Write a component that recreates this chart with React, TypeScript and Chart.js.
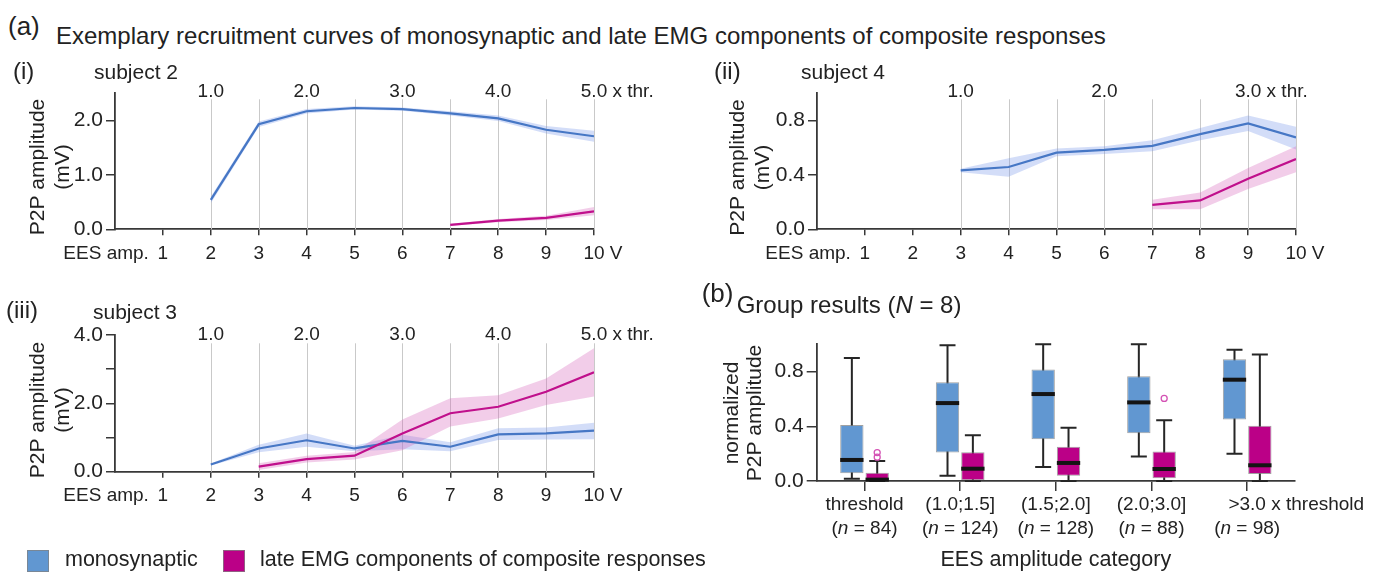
import React, { useEffect, useRef } from 'react';
import { Chart, registerables } from 'chart.js';

Chart.register(...registerables);

const FONT = '"Liberation Sans", Arial, Helvetica, sans-serif';
const INK = '#222222';
const AXIS_INK = '#383838';
const GRID_INK = '#c9c9c9';
const MONO_LINE = '#4677c5';
const MONO_BAND = 'rgba(118, 148, 232, 0.32)';
const LATE_LINE = '#c0108c';
const LATE_BAND = 'rgba(214, 100, 186, 0.32)';
const MONO_BOX = '#6197d1';
const LATE_BOX = '#bb0087';
const BOX_EDGE = 'rgba(130, 130, 130, 0.75)';
const OUTLIER_INK = '#d452b4';

// ---------- subject 2 ----------
const s2MonoV = [2, 3, 4, 5, 6, 7, 8, 9, 10];
const s2Mono = [0.54, 1.93, 2.17, 2.23, 2.21, 2.13, 2.04, 1.83, 1.71];
const s2MonoLo = [0.48, 1.88, 2.13, 2.2, 2.18, 2.09, 1.99, 1.76, 1.61];
const s2MonoHi = [0.6, 1.98, 2.21, 2.26, 2.24, 2.17, 2.09, 1.9, 1.81];
const s2LateV = [7, 8, 9, 10];
const s2Late = [0.08, 0.16, 0.21, 0.33];
const s2LateLo = [0.06, 0.13, 0.17, 0.26];
const s2LateHi = [0.1, 0.19, 0.25, 0.41];
const s2Multiples = ['1.0', '2.0', '3.0', '4.0', '5.0'];
const s2MultipleAt = [2, 4, 6, 8, 10];

// ---------- subject 4 ----------
const s4MonoV = [3, 4, 5, 6, 7, 8, 9, 10];
const s4Mono = [0.433, 0.458, 0.564, 0.584, 0.613, 0.7, 0.778, 0.675];
const s4MonoLo = [0.42, 0.387, 0.537, 0.554, 0.574, 0.655, 0.722, 0.586];
const s4MonoHi = [0.446, 0.522, 0.594, 0.611, 0.655, 0.744, 0.837, 0.754];
const s4LateV = [7, 8, 9, 10];
const s4Late = [0.18, 0.212, 0.372, 0.517];
const s4LateLo = [0.148, 0.148, 0.296, 0.419];
const s4LateHi = [0.217, 0.271, 0.45, 0.61];
const s4Multiples = ['1.0', '2.0', '3.0'];
const s4MultipleAt = [3, 6, 9];

// ---------- subject 3 ----------
const s3MonoV = [2, 3, 4, 5, 6, 7, 8, 9, 10];
const s3Mono = [0.21, 0.68, 0.92, 0.68, 0.9, 0.73, 1.09, 1.12, 1.2];
const s3MonoLo = [0.18, 0.57, 0.73, 0.6, 0.66, 0.6, 0.93, 0.94, 0.95];
const s3MonoHi = [0.24, 0.79, 1.12, 0.76, 1.08, 0.86, 1.27, 1.29, 1.43];
const s3LateV = [3, 4, 5, 6, 7, 8, 9, 10];
const s3Late = [0.15, 0.37, 0.47, 1.12, 1.71, 1.9, 2.34, 2.91];
const s3LateLo = [0.05, 0.27, 0.36, 0.63, 1.32, 1.56, 1.95, 2.2];
const s3LateHi = [0.25, 0.47, 0.58, 1.53, 2.15, 2.24, 2.73, 3.61];
const s3Multiples = ['1.0', '2.0', '3.0', '4.0', '5.0'];
const s3MultipleAt = [2, 4, 6, 8, 10];

// ---------- group results ----------
const categories = ['threshold', '(1.0;1.5]', '(1.5;2.0]', '(2.0;3.0]', '>3.0 x threshold'];
const categoryN = [84, 124, 128, 88, 98];
const monoMin = [0.017, 0.039, 0.103, 0.179, 0.2];
const monoQ1 = [0.056, 0.208, 0.306, 0.35, 0.45];
const monoMed = [0.154, 0.57, 0.636, 0.575, 0.741];
const monoQ3 = [0.41, 0.722, 0.815, 0.766, 0.89];
const monoMax = [0.9, 0.993, 1.0, 1.0, 0.961];
const lateMin = [0, 0, 0, 0, 0];
const lateQ1 = [0, 0, 0.039, 0.02, 0.051];
const lateMed = [0.01, 0.09, 0.132, 0.088, 0.115];
const lateQ3 = [0.061, 0.21, 0.25, 0.215, 0.404];
const lateMax = [0.147, 0.335, 0.389, 0.445, 0.925];
const lateOutliers = [[0.174, 0.208], [], [], [0.604], []];

const TICK_SIZE = 19;
const Y_TICK_SIZE = 21;
const X_TICK_LEN = 6;
const X_TICK_PAD = 7;
const Y_TICK_LEN = 9;
const Y_TICK_PAD = 3;

type Box = { left: number; top: number; width: number; height: number };
type Area = { l: number; t: number; r: number; b: number };
type Series = { v: number[]; mid: number[]; lo: number[]; hi: number[] };
type CurveSpec = {
  box: Box;
  area: Area;
  yMax: number;
  yStep: number;
  yLabelStep: number;
  mono: Series;
  late: Series;
  gridFrom: number;
  multiples: string[];
  multipleAt: number[];
  multBase: number;
  gridTop: number;
  tag: string;
  tagX: number;
  tagBase: number;
  subject: string;
  subjectX: number;
  subjectBase: number;
  titleX: [number, number];
  titleY: number;
};

const pts = (xs: number[], ys: number[]) => xs.map((x, i) => ({ x, y: ys[i] }));

const isLabelled = (v: number, step: number) => Math.abs(v / step - Math.round(v / step)) < 1e-6;

function paddingFor(box: Box, area: Area, yW: number, xH: number) {
  return {
    left: area.l - box.left - yW,
    top: area.t - box.top,
    right: box.left + box.width - area.r,
    bottom: box.top + box.height - area.b - xH,
  };
}

function rotatedText(ctx: CanvasRenderingContext2D, text: string, x: number, y: number) {
  ctx.save();
  ctx.translate(x, y);
  ctx.rotate(-Math.PI / 2);
  ctx.textAlign = 'center';
  ctx.textBaseline = 'middle';
  ctx.fillText(text, 0, 0);
  ctx.restore();
}

function mixedText(
  ctx: CanvasRenderingContext2D,
  parts: [string, boolean][],
  x: number,
  y: number,
  size: number,
  align: 'left' | 'center',
) {
  const fonts = parts.map(([, it]) => `${it ? 'italic ' : ''}${size}px ${FONT}`);
  const widths = parts.map(([t], i) => {
    ctx.font = fonts[i];
    return ctx.measureText(t).width;
  });
  const total = widths.reduce((a, b) => a + b, 0);
  let cx = align === 'center' ? x - total / 2 : x;
  ctx.textAlign = 'left';
  parts.forEach(([t], i) => {
    ctx.font = fonts[i];
    ctx.fillText(t, cx, y);
    cx += widths[i];
  });
}

function makeCurveDecor(s: CurveSpec) {
  const ox = s.box.left;
  const oy = s.box.top;
  return {
    id: 'curveDecor',
    beforeDatasetsDraw(chart: any) {
      const { ctx, chartArea: ca, scales } = chart;
      const x = scales.x;
      ctx.save();
      ctx.strokeStyle = GRID_INK;
      ctx.lineWidth = 1;
      for (let v = s.gridFrom; v <= 10; v++) {
        const px = Math.round(x.getPixelForValue(v)) + 0.5;
        ctx.beginPath();
        ctx.moveTo(px, ca.bottom);
        ctx.lineTo(px, s.gridTop - oy);
        ctx.stroke();
      }
      ctx.restore();
    },
    afterDraw(chart: any) {
      const { ctx, chartArea: ca, scales } = chart;
      const x = scales.x;
      ctx.save();
      ctx.fillStyle = INK;
      ctx.textBaseline = 'alphabetic';

      // multiples of the motor threshold along the top
      ctx.font = `${TICK_SIZE}px ${FONT}`;
      s.multiples.forEach((m, i) => {
        const px = x.getPixelForValue(s.multipleAt[i]);
        ctx.textAlign = 'center';
        ctx.fillText(m, px, s.multBase - oy);
        if (i === s.multiples.length - 1) {
          const w = ctx.measureText(m).width;
          ctx.textAlign = 'left';
          ctx.fillText(' x thr.', px + w / 2, s.multBase - oy);
        }
      });

      // x-axis caption and unit
      const midY = ca.bottom + X_TICK_LEN + X_TICK_PAD + (TICK_SIZE * 1.2) / 2;
      ctx.textBaseline = 'middle';
      ctx.textAlign = 'right';
      ctx.fillText('EES amp.', x.getPixelForValue(1) - 14, midY);
      const tenW = ctx.measureText('10').width;
      ctx.textAlign = 'left';
      ctx.fillText(' V', x.getPixelForValue(10) + tenW / 2, midY);

      // panel tag and subject name
      ctx.textBaseline = 'alphabetic';
      ctx.font = `24px ${FONT}`;
      ctx.fillText(s.tag, s.tagX - ox, s.tagBase - oy);
      ctx.font = `21px ${FONT}`;
      ctx.fillText(s.subject, s.subjectX - ox, s.subjectBase - oy);

      // y-axis title
      ctx.font = `21px ${FONT}`;
      rotatedText(ctx, 'P2P amplitude', s.titleX[0] - ox, s.titleY - oy);
      rotatedText(ctx, '(mV)', s.titleX[1] - ox, s.titleY - oy);
      ctx.restore();
    },
  };
}

function curveChart(canvas: HTMLCanvasElement, s: CurveSpec) {
  const yW = 50;
  const xH = 40;
  const band = (data: { x: number; y: number }[], color: string, fill: any) => ({
    data,
    borderColor: 'transparent',
    borderWidth: 0,
    backgroundColor: color,
    pointRadius: 0,
    tension: 0,
    fill,
  });
  return new Chart(canvas, {
    type: 'line',
    data: {
      datasets: [
        { data: pts(s.late.v, s.late.mid), borderColor: LATE_LINE, borderWidth: 2.2, pointRadius: 0, tension: 0, fill: false },
        { data: pts(s.mono.v, s.mono.mid), borderColor: MONO_LINE, borderWidth: 2.2, pointRadius: 0, tension: 0, fill: false },
        band(pts(s.late.v, s.late.hi), LATE_BAND, '+1'),
        band(pts(s.late.v, s.late.lo), 'transparent', false),
        band(pts(s.mono.v, s.mono.hi), MONO_BAND, '+1'),
        band(pts(s.mono.v, s.mono.lo), 'transparent', false),
      ] as any,
    },
    options: {
      responsive: false,
      animation: false,
      devicePixelRatio: 1,
      layout: { autoPadding: false, padding: paddingFor(s.box, s.area, yW, xH) } as any,
      plugins: { legend: { display: false }, tooltip: { enabled: false } },
      scales: {
        x: {
          type: 'linear',
          min: 0,
          max: 10,
          afterFit: (sc: any) => {
            sc.height = xH;
          },
          border: { color: AXIS_INK, width: 1.8 },
          grid: { drawOnChartArea: false, tickLength: X_TICK_LEN, color: AXIS_INK, lineWidth: 1.5 },
          ticks: {
            stepSize: 1,
            autoSkip: false,
            maxRotation: 0,
            padding: X_TICK_PAD,
            color: INK,
            font: { family: FONT, size: TICK_SIZE },
            callback: (v: any) => (v === 0 ? null : String(v)),
          },
        },
        y: {
          type: 'linear',
          min: 0,
          max: s.yMax,
          afterFit: (sc: any) => {
            sc.width = yW;
          },
          border: { color: AXIS_INK, width: 1.8 },
          grid: { drawOnChartArea: false, tickLength: Y_TICK_LEN, color: AXIS_INK, lineWidth: 1.5 },
          ticks: {
            stepSize: s.yStep,
            padding: Y_TICK_PAD,
            color: INK,
            font: { family: FONT, size: Y_TICK_SIZE },
            callback: (v: any) => (isLabelled(Number(v), s.yLabelStep) ? Number(v).toFixed(1) : ''),
          },
        },
      } as any,
    },
    plugins: [makeCurveDecor(s)],
  });
}

const BOX_BOX: Box = { left: 690, top: 280, width: 688, height: 295 };
const BOX_AREA: Area = { l: 816.7, t: 344.3, r: 1295, b: 481 };

function makeBoxDecor() {
  const ox = BOX_BOX.left;
  const oy = BOX_BOX.top;
  const groups = [
    { min: monoMin, max: monoMax, med: monoMed, out: [] as number[][] },
    { min: lateMin, max: lateMax, med: lateMed, out: lateOutliers },
  ];
  const CAP = 8;
  return {
    id: 'boxDecor',
    beforeDatasetsDraw(chart: any) {
      const { ctx, scales } = chart;
      const y = scales.y;
      ctx.save();
      ctx.strokeStyle = '#262626';
      ctx.lineWidth = 2;
      groups.forEach((g, di) => {
        chart.getDatasetMeta(di).data.forEach((bar: any, i: number) => {
          const cx = bar.x;
          const top = y.getPixelForValue(g.max[i]);
          const bot = y.getPixelForValue(g.min[i]);
          ctx.beginPath();
          ctx.moveTo(cx, bot);
          ctx.lineTo(cx, top);
          ctx.moveTo(cx - CAP, top);
          ctx.lineTo(cx + CAP, top);
          ctx.moveTo(cx - CAP, bot);
          ctx.lineTo(cx + CAP, bot);
          ctx.stroke();
        });
      });
      ctx.restore();
    },
    afterDatasetsDraw(chart: any) {
      const { ctx, scales } = chart;
      const y = scales.y;
      ctx.save();
      groups.forEach((g, di) => {
        chart.getDatasetMeta(di).data.forEach((bar: any, i: number) => {
          const half = bar.width / 2;
          const py = y.getPixelForValue(g.med[i]);
          ctx.strokeStyle = '#141414';
          ctx.lineWidth = 4;
          ctx.beginPath();
          ctx.moveTo(bar.x - half, py);
          ctx.lineTo(bar.x + half, py);
          ctx.stroke();
          ctx.strokeStyle = OUTLIER_INK;
          ctx.lineWidth = 1.3;
          (g.out[i] || []).forEach((o) => {
            ctx.beginPath();
            ctx.arc(bar.x, y.getPixelForValue(o), 3, 0, Math.PI * 2);
            ctx.stroke();
          });
        });
      });
      ctx.restore();
    },
    afterDraw(chart: any) {
      const { ctx, chartArea: ca, scales } = chart;
      const x = scales.x;
      ctx.save();
      ctx.fillStyle = INK;
      ctx.textBaseline = 'alphabetic';
      categories.forEach((c, i) => {
        const px = x.getPixelForValue(i);
        ctx.font = `${TICK_SIZE}px ${FONT}`;
        const cut = c.indexOf(' x ');
        if (cut > 0) {
          const head = c.slice(0, cut);
          const w = ctx.measureText(head).width;
          ctx.textAlign = 'left';
          ctx.fillText(c, px - w / 2, 510 - oy);
        } else {
          ctx.textAlign = 'center';
          ctx.fillText(c, px, 510 - oy);
        }
        mixedText(ctx, [['(', false], ['n', true], [` = ${categoryN[i]})`, false]], px, 534 - oy, TICK_SIZE, 'center');
      });
      ctx.font = `21.5px ${FONT}`;
      ctx.textAlign = 'center';
      ctx.fillText('EES amplitude category', (ca.left + ca.right) / 2, 566 - oy);

      ctx.font = `21px ${FONT}`;
      rotatedText(ctx, 'normalized', 732.5 - ox, 413 - oy);
      rotatedText(ctx, 'P2P amplitude', 755 - ox, 413 - oy);

      ctx.textAlign = 'left';
      ctx.font = `26px ${FONT}`;
      ctx.fillText('(b)', 701.7 - ox, 302 - oy);
      mixedText(ctx, [['Group results (', false], ['N', true], [' = 8)', false]], 736.7 - ox, 313 - oy, 24, 'left');
      ctx.restore();
    },
  };
}

function boxChart(canvas: HTMLCanvasElement) {
  const yW = 50;
  const xH = 40;
  const boxSet = (lo: number[], hi: number[], color: string) => ({
    data: lo.map((q, i) => [q, hi[i]]),
    backgroundColor: color,
    borderColor: BOX_EDGE,
    borderWidth: 1,
    borderSkipped: false,
    categoryPercentage: 0.53,
    barPercentage: 0.92,
  });
  return new Chart(canvas, {
    type: 'bar',
    data: {
      labels: categories,
      datasets: [boxSet(monoQ1, monoQ3, MONO_BOX), boxSet(lateQ1, lateQ3, LATE_BOX)] as any,
    },
    options: {
      responsive: false,
      animation: false,
      devicePixelRatio: 1,
      layout: { autoPadding: false, padding: paddingFor(BOX_BOX, BOX_AREA, yW, xH) } as any,
      plugins: { legend: { display: false }, tooltip: { enabled: false } },
      scales: {
        x: {
          type: 'category',
          offset: true,
          afterFit: (sc: any) => {
            sc.height = xH;
          },
          border: { color: AXIS_INK, width: 1.8 },
          grid: { offset: false, drawOnChartArea: false, tickLength: 10, color: AXIS_INK, lineWidth: 1.5 },
          ticks: { padding: 4, font: { family: FONT, size: TICK_SIZE }, callback: () => '' },
        },
        y: {
          type: 'linear',
          min: 0,
          max: 1,
          afterFit: (sc: any) => {
            sc.width = yW;
          },
          border: { color: AXIS_INK, width: 1.8 },
          grid: { drawOnChartArea: false, tickLength: 10, color: AXIS_INK, lineWidth: 1.5 },
          ticks: {
            stepSize: 0.2,
            padding: Y_TICK_PAD,
            color: INK,
            font: { family: FONT, size: Y_TICK_SIZE },
            callback: (v: any) => (isLabelled(Number(v), 0.4) ? Number(v).toFixed(1) : ''),
          },
        },
      } as any,
    },
    plugins: [makeBoxDecor()],
  });
}

const PANEL_I: CurveSpec = {
  box: { left: 0, top: 50, width: 690, height: 225 },
  area: { l: 115, t: 93.3, r: 594, b: 229.3 },
  yMax: 2.5,
  yStep: 0.5,
  yLabelStep: 1,
  mono: { v: s2MonoV, mid: s2Mono, lo: s2MonoLo, hi: s2MonoHi },
  late: { v: s2LateV, mid: s2Late, lo: s2LateLo, hi: s2LateHi },
  gridFrom: 2,
  multiples: s2Multiples,
  multipleAt: s2MultipleAt,
  multBase: 97,
  gridTop: 99.3,
  tag: '(i)',
  tagX: 13,
  tagBase: 79,
  subject: 'subject 2',
  subjectX: 94,
  subjectBase: 78.5,
  titleX: [38, 63],
  titleY: 167,
};

const PANEL_II: CurveSpec = {
  box: { left: 690, top: 50, width: 688, height: 225 },
  area: { l: 817, t: 93.3, r: 1296, b: 229.3 },
  yMax: 1.0,
  yStep: 0.2,
  yLabelStep: 0.4,
  mono: { v: s4MonoV, mid: s4Mono, lo: s4MonoLo, hi: s4MonoHi },
  late: { v: s4LateV, mid: s4Late, lo: s4LateLo, hi: s4LateHi },
  gridFrom: 3,
  multiples: s4Multiples,
  multipleAt: s4MultipleAt,
  multBase: 97,
  gridTop: 99.3,
  tag: '(ii)',
  tagX: 714,
  tagBase: 79,
  subject: 'subject 4',
  subjectX: 801,
  subjectBase: 78.5,
  titleX: [738.5, 763],
  titleY: 167.5,
};

const PANEL_III: CurveSpec = {
  box: { left: 0, top: 290, width: 690, height: 225 },
  area: { l: 115, t: 335, r: 594, b: 471.7 },
  yMax: 4.0,
  yStep: 1,
  yLabelStep: 2,
  mono: { v: s3MonoV, mid: s3Mono, lo: s3MonoLo, hi: s3MonoHi },
  late: { v: s3LateV, mid: s3Late, lo: s3LateLo, hi: s3LateHi },
  gridFrom: 2,
  multiples: s3Multiples,
  multipleAt: s3MultipleAt,
  multBase: 340,
  gridTop: 343.3,
  tag: '(iii)',
  tagX: 6,
  tagBase: 318,
  subject: 'subject 3',
  subjectX: 93,
  subjectBase: 319,
  titleX: [38, 63],
  titleY: 410,
};

function Txt(props: { x: number; base: number; size: number; children: React.ReactNode }) {
  return (
    <span
      style={{
        position: 'absolute',
        left: props.x,
        top: props.base - 0.8465 * props.size,
        font: `${props.size}px ${FONT}`,
        lineHeight: `${props.size}px`,
        color: INK,
        whiteSpace: 'nowrap',
      }}
    >
      {props.children}
    </span>
  );
}

function Swatch(props: { x: number; color: string }) {
  return (
    <div
      style={{
        position: 'absolute',
        left: props.x,
        top: 550,
        width: 22,
        height: 22,
        boxSizing: 'border-box',
        background: props.color,
        border: `1px solid ${BOX_EDGE}`,
      }}
    />
  );
}

export default function App() {
  const c1 = useRef<HTMLCanvasElement>(null);
  const c2 = useRef<HTMLCanvasElement>(null);
  const c3 = useRef<HTMLCanvasElement>(null);
  const c4 = useRef<HTMLCanvasElement>(null);

  useEffect(() => {
    const charts = [
      curveChart(c1.current!, PANEL_I),
      curveChart(c2.current!, PANEL_II),
      curveChart(c3.current!, PANEL_III),
      boxChart(c4.current!),
    ];
    return () => charts.forEach((c) => c.destroy());
  }, []);

  const canvasStyle = (b: Box): React.CSSProperties => ({
    position: 'absolute',
    left: b.left,
    top: b.top,
    width: b.width,
    height: b.height,
  });

  return (
    <div
      style={{
        position: 'fixed',
        left: 0,
        top: 0,
        width: 1378,
        height: 575,
        background: '#ffffff',
        overflow: 'hidden',
      }}
    >
      <Txt x={8} base={35} size={26}>
        (a)
      </Txt>
      <Txt x={56} base={44} size={24}>
        Exemplary recruitment curves of monosynaptic and late EMG components of composite responses
      </Txt>
      <canvas ref={c1} width={PANEL_I.box.width} height={PANEL_I.box.height} style={canvasStyle(PANEL_I.box)} />
      <canvas ref={c2} width={PANEL_II.box.width} height={PANEL_II.box.height} style={canvasStyle(PANEL_II.box)} />
      <canvas ref={c3} width={PANEL_III.box.width} height={PANEL_III.box.height} style={canvasStyle(PANEL_III.box)} />
      <canvas ref={c4} width={BOX_BOX.width} height={BOX_BOX.height} style={canvasStyle(BOX_BOX)} />
      <Swatch x={27} color={MONO_BOX} />
      <Txt x={65} base={567} size={21.5}>
        monosynaptic
      </Txt>
      <Swatch x={223} color={LATE_BOX} />
      <Txt x={260} base={567} size={21.5}>
        late EMG components of composite responses
      </Txt>
    </div>
  );
}
